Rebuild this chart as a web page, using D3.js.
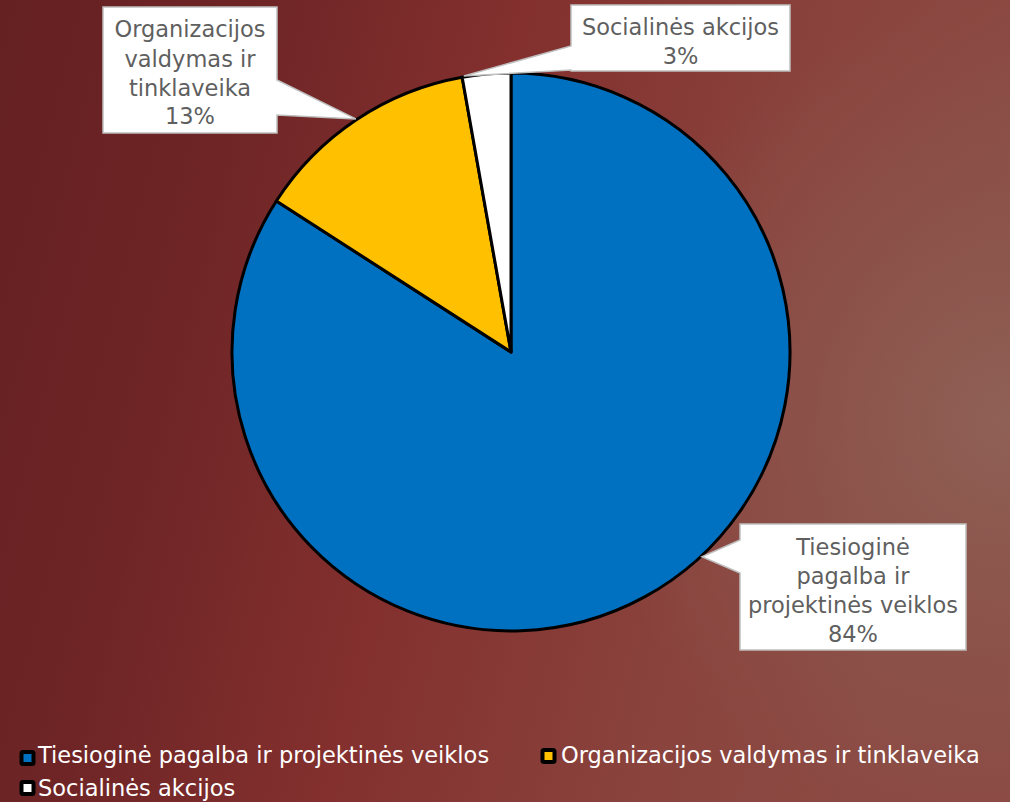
<!DOCTYPE html>
<html><head><meta charset="utf-8">
<script src="https://cdn.jsdelivr.net/npm/d3@7"></script>
<style>html,body{margin:0;padding:0;overflow:hidden;background:#7a2b2a}</style>
</head><body>
<svg id="chart" width="1010" height="802"></svg>
<script>
const categories = ["Tiesioginė pagalba ir projektinės veiklos", "Organizacijos valdymas ir tinklaveika", "Socialinės akcijos"];
const values = [84.1, 13.1, 2.8];
const percentLabels = ["84%", "13%", "3%"];
const labelLines = [["Tiesioginė", "pagalba ir", "projektinės veiklos"], ["Organizacijos", "valdymas ir", "tinklaveika"], ["Socialinės akcijos"]];
const colors = ["#0070c0", "#ffc000", "#ffffff"];

const W = 1010, H = 802;
const svg = d3.select("#chart");
const defs = svg.append("defs");
const lg = defs.append("linearGradient").attr("id","bg").attr("x1","0").attr("y1","0").attr("x2","1").attr("y2","0.2");
lg.append("stop").attr("offset","0").attr("stop-color","#652022");
lg.append("stop").attr("offset","0.25").attr("stop-color","#6f2526");
lg.append("stop").attr("offset","0.5").attr("stop-color","#83302e");
lg.append("stop").attr("offset","0.8").attr("stop-color","#8a433d");
lg.append("stop").attr("offset","1").attr("stop-color","#8b4a43");
svg.append("rect").attr("width",W).attr("height",H).attr("fill","url(#bg)");
const rg = defs.append("radialGradient").attr("id","hl").attr("gradientUnits","userSpaceOnUse")
  .attr("cx",1010).attr("cy",420).attr("r",420);
rg.append("stop").attr("offset","0").attr("stop-color","#906358").attr("stop-opacity",0.9);
rg.append("stop").attr("offset","0.6").attr("stop-color","#8c5a50").attr("stop-opacity",0.45);
rg.append("stop").attr("offset","1").attr("stop-color","#8c5a50").attr("stop-opacity",0);
svg.append("rect").attr("width",W).attr("height",H).attr("fill","url(#hl)");

const cx = 511, cy = 352, R = 279;
const pie = d3.pie().sort(null).value(d => d)(values);
const arc = d3.arc().innerRadius(0).outerRadius(R);
const g = svg.append("g").attr("transform",`translate(${cx},${cy})`);
g.selectAll("path").data(pie).join("path")
  .attr("d", arc).attr("fill",(d,i)=>colors[i])
  .attr("stroke","#000").attr("stroke-width",3).attr("stroke-linejoin","round");

// callouts
const font = "'DejaVu Sans', sans-serif";
const callouts = [
  {i:0, box:[740,524,966,650], side:"left", base:[540,573], tipAngle:137, baselines:[555,584,613,642]},
  {i:1, box:[103,7,277,133], side:"right", base:[80,115], tipAngle:null, baselines:[37,66.5,96,124]},
  {i:2, box:[571,5,790,71], side:"left", base:[46,70], tipAngle:350.3, baselines:[35,64]}
];
const tipPoint = (deg) => {
  const a = deg*Math.PI/180;
  return [cx + (R+1)*Math.sin(a), cy - (R+1)*Math.cos(a)];
};
callouts.forEach(c => {
  const d = pie[c.i];
  const deg = c.tipAngle != null ? c.tipAngle : (d.startAngle+d.endAngle)/2*180/Math.PI;
  const [tx,ty] = tipPoint(deg);
  const [x0,y0,x1,y1] = c.box;
  let p;
  if (c.side === "left") {
    p = `M${x0},${y0}L${x1},${y0}L${x1},${y1}L${x0},${y1}L${x0},${c.base[1]}L${tx},${ty}L${x0},${c.base[0]}Z`;
  } else {
    p = `M${x0},${y0}L${x1},${y0}L${x1},${c.base[0]}L${tx},${ty}L${x1},${c.base[1]}L${x1},${y1}L${x0},${y1}Z`;
  }
  svg.append("path").attr("d",p).attr("fill","#fff").attr("stroke","#bfbfbf").attr("stroke-width",1.5);
  const lines = labelLines[c.i].concat([percentLabels[c.i]]);
  const mx = (x0+x1)/2;
  lines.forEach((t,k) => {
    svg.append("text").attr("x",mx).attr("y",c.baselines[k]).attr("text-anchor","middle")
      .attr("font-family",font).attr("font-size",22.5).attr("fill","#5f5f5f").text(t);
  });
});

// legend
const legendItems = [
  {i:0, x:27.5, y:758, tx:38, ty:763},
  {i:1, x:548.5, y:756, tx:561, ty:763},
  {i:2, x:27.5, y:788, tx:38, ty:796}
];
legendItems.forEach(l => {
  svg.append("rect").attr("x",l.x-6).attr("y",l.y-6).attr("width",12).attr("height",12)
    .attr("fill",colors[l.i]).attr("stroke","#000").attr("stroke-width",4).attr("rx",1.5);
  svg.append("text").attr("x",l.tx).attr("y",l.ty).attr("font-family",font).attr("font-size",22.5)
    .attr("fill","#fff").text(categories[l.i]);
});
</script>
</body></html>
